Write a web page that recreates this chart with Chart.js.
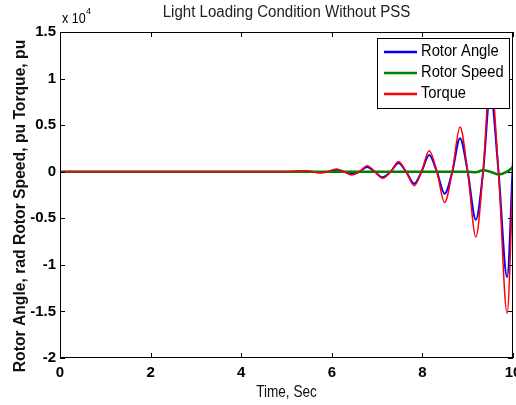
<!DOCTYPE html>
<html>
<head>
<meta charset="utf-8">
<script src="https://cdn.jsdelivr.net/npm/chart.js@4/dist/chart.umd.min.js"></script>
<style>
  html, body { margin: 0; padding: 0; background: #fff; }
  #wrap { width: 516px; height: 405px; }
</style>
</head>
<body>
<div id="wrap"><canvas id="chart" width="516" height="405"></canvas></div>
<script>
// values (y in raw units, axis shows x 10^4)
const time = [0, 5.0, 5.4, 5.57, 5.74, 5.92, 6.10, 6.27, 6.44, 6.61, 6.78, 6.95, 7.12, 7.30, 7.47, 7.64,
  7.82, 7.98, 8.15, 8.32, 8.49, 8.66, 8.83, 9.00, 9.18, 9.34, 9.50, 9.68, 9.87, 10.0];
const rotorAngle = [0, 0, 50, 0, -50, 0, 200, 0, -250, 0, 500, 0, -600, 0, 930, 0,
  -1300, 0, 1800, 0, -2360, 0, 3600, 0, -5150, 0, 8500, 0, -11300, 1200];
const rotorSpeed = [0, 0, 0, 0, 0, 0, 0, 0, 0, 0, 0, 0, 0, 0, 0, 0,
  0, 0, 0, 0, 0, 0, 0, 0, -50, 150, 0, -300, 0, 500];
const torque = [0, 0, 100, 0, -150, 0, 300, 0, -350, 0, 650, 0, -700, 0, 1100, 0,
  -1500, 0, 2250, 0, -3300, 0, 4800, 0, -7000, 0, 10500, 0, -15200, -500];
const xTicks = [0, 2, 4, 6, 8, 10];
const yTicks = [-20000, -15000, -10000, -5000, 0, 5000, 10000, 15000];

const toPoints = (ys) => time.map((t, i) => ({ x: t, y: ys[i] }));

function drawText(ctx, text, x, y, font, sx, align, color) {
  ctx.save();
  ctx.font = font;
  ctx.fillStyle = color || "#000";
  ctx.textBaseline = "middle";
  const w = ctx.measureText(text).width * sx;
  let x0 = x;
  if (align === "center") x0 = x - w / 2;
  if (align === "right") x0 = x - w;
  ctx.translate(x0, y);
  ctx.scale(sx, 1);
  ctx.textAlign = "left";
  ctx.fillText(text, 0, 0);
  ctx.restore();
}

const framePlugin = {
  id: "frame",
  afterDraw(chart) {
    const ctx = chart.ctx;
    const a = chart.chartArea;
    const xs = chart.scales.x;
    const ys = chart.scales.y;
    ctx.save();
    ctx.strokeStyle = "#000";
    ctx.lineWidth = 1;
    ctx.strokeRect(a.left + 0.5, a.top + 0.5, a.right - a.left - 1, a.bottom - a.top - 1);
    ctx.beginPath();
    xTicks.forEach((v) => {
      const px = Math.round(xs.getPixelForValue(v)) + 0.5;
      ctx.moveTo(px, a.bottom); ctx.lineTo(px, a.bottom - 5);
      ctx.moveTo(px, a.top); ctx.lineTo(px, a.top + 5);
    });
    yTicks.forEach((v) => {
      const py = Math.round(ys.getPixelForValue(v)) + 0.5;
      ctx.moveTo(a.left, py); ctx.lineTo(a.left + 5, py);
      ctx.moveTo(a.right, py); ctx.lineTo(a.right - 5, py);
    });
    ctx.stroke();

    // legend box
    const lx = 377, ly = 38, lw = 132, lh = 70;
    ctx.fillStyle = "#fff";
    ctx.fillRect(lx, ly, lw, lh);
    ctx.strokeRect(lx + 0.5, ly + 0.5, lw, lh);
    const rows = [52, 73, 94];
    chart.data.datasets.forEach((ds, i) => {
      ctx.strokeStyle = ds.borderColor;
      ctx.lineWidth = 2.5;
      ctx.beginPath();
      ctx.moveTo(384, rows[i]); ctx.lineTo(417, rows[i]);
      ctx.stroke();
      drawText(ctx, ds.label, 421, rows[i], "16px 'Liberation Sans', Arial, sans-serif", 0.92, "left");
    });

    // titles
    drawText(ctx, "Light Loading Condition Without PSS", (a.left + a.right) / 2, 13,
      "16px 'Liberation Sans', Arial, sans-serif", 0.94, "center", "#222");
    drawText(ctx, "Time, Sec", (a.left + a.right) / 2, 392,
      "17px 'Liberation Sans', Arial, sans-serif", 0.8, "center", "#111");
    ctx.save();
    ctx.translate(21, 206);
    ctx.rotate(-Math.PI / 2);
    drawText(ctx, "Rotor Angle, rad Rotor Speed, pu Torque, pu", 0, 0,
      "bold 16px 'Liberation Sans', Arial, sans-serif", 0.98, "center", "#111");
    ctx.restore();

    // exponent label
    drawText(ctx, "x 10", 62, 19, "14px 'Liberation Sans', Arial, sans-serif", 0.9, "left");
    drawText(ctx, "4", 86, 12, "9px 'Liberation Sans', Arial, sans-serif", 1, "left");
    ctx.restore();
  }
};

new Chart(document.getElementById("chart"), {
  type: "line",
  data: {
    datasets: [
      { label: "Rotor Angle", data: toPoints(rotorAngle), borderColor: "#0000ff", borderWidth: 2, order: 3 },
      { label: "Rotor Speed", data: toPoints(rotorSpeed), borderColor: "#008000", borderWidth: 2.5, order: 2 },
      { label: "Torque", data: toPoints(torque), borderColor: "#ff0000", borderWidth: 1.5, order: 1 }
    ]
  },
  options: {
    responsive: false,
    animation: false,
    events: [],
    layout: { padding: { top: 32, right: 3, left: 0, bottom: 0 } },
    elements: {
      point: { radius: 0 },
      line: { cubicInterpolationMode: "monotone", fill: false }
    },
    plugins: { legend: { display: false }, title: { display: false }, tooltip: { enabled: false } },
    scales: {
      x: {
        type: "linear", min: 0, max: 10,
        grid: { display: false, drawTicks: false },
        border: { display: false },
        ticks: {
          stepSize: 2, padding: 6, color: "#000", maxRotation: 0,
          font: { family: "'Liberation Sans', Arial, sans-serif", size: 15, weight: "bold" }
        },
        afterFit(scale) { scale.height = 47; scale.paddingLeft = 0; scale.paddingRight = 0; }
      },
      y: {
        min: -20000, max: 15000,
        grid: { display: false, drawTicks: false },
        border: { display: false },
        afterBuildTicks(scale) { scale.ticks = yTicks.map((v) => ({ value: v })); },
        ticks: {
          padding: 4, color: "#000",
          font: { family: "'Liberation Sans', Arial, sans-serif", size: 15, weight: "bold" },
          callback: (v) => String(v / 10000)
        },
        afterFit(scale) { scale.width = 60; scale.paddingTop = 0; scale.paddingBottom = 0; }
      }
    }
  },
  plugins: [framePlugin]
});
</script>
</body>
</html>
